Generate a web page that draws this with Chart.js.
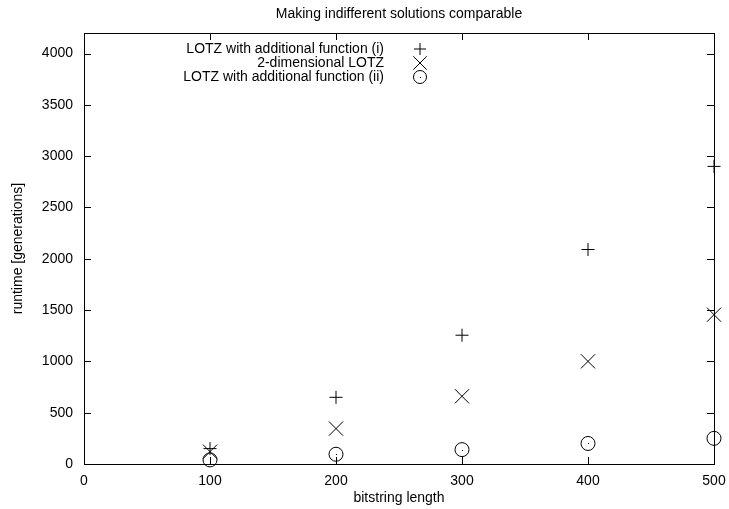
<!DOCTYPE html>
<html>
<head>
<meta charset="utf-8">
<script src="https://cdn.jsdelivr.net/npm/chart.js@4"></script>
<style>
  html, body { margin: 0; padding: 0; background: #fff; }
  #wrap { width: 729px; height: 509px; }
</style>
</head>
<body>
<div id="wrap"><canvas id="chart" width="729" height="509"></canvas></div>
<script>
const bitstringLength = [100, 200, 300, 400, 500];
const lotzFuncI = [150, 650, 1255, 2090, 2900];
const lotz2d = [120, 345, 660, 1000, 1455];
const lotzFuncII = [40, 95, 140, 200, 250];
const xTicks = [0, 100, 200, 300, 400, 500];
const yTicks = [0, 500, 1000, 1500, 2000, 2500, 3000, 3500, 4000];
const seriesLabels = ['LOTZ with additional function (i)', '2-dimensional LOTZ', 'LOTZ with additional function (ii)'];

const FONT = 'Liberation Sans, Arial, Helvetica, sans-serif';
const FSIZE = 14;

function toPoints(ys) {
    return bitstringLength.map((x, i) => ({ x: x, y: ys[i] }));
}

// gnuplot-like frame, inward ticks, title, legend, centre dots on circles
const gnuplotLook = {
    id: 'gnuplotLook',
    afterDatasetsDraw(chart) {
        const ctx = chart.ctx;
        const a = chart.chartArea;
        const xs = chart.scales.x, ys = chart.scales.y;
        const tl = 7;
        ctx.save();
        ctx.strokeStyle = '#000';
        ctx.lineWidth = 1;
        ctx.beginPath();
        xTicks.forEach(v => {
            const px = Math.round(xs.getPixelForValue(v)) + 0.5;
            ctx.moveTo(px, a.bottom); ctx.lineTo(px, a.bottom - tl);
            ctx.moveTo(px, a.top); ctx.lineTo(px, a.top + tl);
        });
        yTicks.forEach(v => {
            const py = Math.round(ys.getPixelForValue(v)) + 0.5;
            ctx.moveTo(a.left, py); ctx.lineTo(a.left + tl, py);
            ctx.moveTo(a.right, py); ctx.lineTo(a.right - tl, py);
        });
        ctx.stroke();
        ctx.strokeRect(Math.round(a.left) + 0.5, Math.round(a.top) + 0.5,
            Math.round(a.right - a.left), Math.round(a.bottom - a.top));

        // centre dots of circle markers
        ctx.fillStyle = '#000';
        chart.getDatasetMeta(2).data.forEach(pt => {
            ctx.fillRect(Math.round(pt.x), Math.round(pt.y), 1, 1);
        });

        // title
        ctx.font = FSIZE + 'px ' + FONT;
        ctx.textAlign = 'center';
        ctx.textBaseline = 'middle';
        ctx.fillText('Making indifferent solutions comparable', (a.left + a.right) / 2, 14);

        // legend
        const rowsY = [49, 63, 77];
        const textRight = 384;
        const markX = 420;
        ctx.textAlign = 'right';
        chart.data.datasets.forEach((ds, i) => {
            ctx.fillStyle = '#000';
            ctx.fillText(ds.label, textRight, rowsY[i]);
            const style = ds.pointStyle;
            const r = style === 'crossRot' ? 9.5 : (style === 'cross' ? 6 : 6.5);
            ctx.lineWidth = 1;
            ctx.strokeStyle = '#000';
            ctx.fillStyle = 'rgba(0,0,0,0)';
            Chart.helpers.drawPoint(ctx, { pointStyle: style, radius: r, rotation: 0, borderWidth: 1 }, markX, rowsY[i]);
            ctx.fillStyle = '#000';
            if (style === 'circle') ctx.fillRect(markX, rowsY[i], 1, 1);
        });
        ctx.restore();
    }
};

const pointBase = {
    borderColor: '#000',
    backgroundColor: 'rgba(0,0,0,0)',
    borderWidth: 1,
    showLine: false,
    clip: false
};

new Chart(document.getElementById('chart'), {
    type: 'scatter',
    data: {
        datasets: [
            Object.assign({}, pointBase, { label: seriesLabels[0], data: toPoints(lotzFuncI), pointStyle: 'cross', pointRadius: 6.5 }),
            Object.assign({}, pointBase, { label: seriesLabels[1], data: toPoints(lotz2d), pointStyle: 'crossRot', pointRadius: 10 }),
            Object.assign({}, pointBase, { label: seriesLabels[2], data: toPoints(lotzFuncII), pointStyle: 'circle', pointRadius: 7 })
        ]
    },
    options: {
        responsive: false,
        animation: false,
        layout: { padding: { top: 33, right: 15, left: 0, bottom: 0 } },
        plugins: {
            legend: { display: false },
            tooltip: { enabled: false }
        },
        scales: {
            x: {
                type: 'linear',
                min: 0,
                max: 500,
                afterBuildTicks: s => { s.ticks = xTicks.map(v => ({ value: v })); },
                afterFit: s => { s.height = 45; s.paddingRight = 0; s.paddingLeft = 0; },
                grid: { display: false, drawTicks: false },
                border: { display: false },
                ticks: { color: '#000', font: { family: FONT, size: FSIZE }, padding: 9, maxRotation: 0, callback: v => String(v) },
                title: { display: true, text: 'bitstring length', color: '#000', font: { family: FONT, size: FSIZE }, padding: { top: 0, bottom: 2 } }
            },
            y: {
                type: 'linear',
                min: 0,
                max: 4200,
                afterBuildTicks: s => { s.ticks = yTicks.map(v => ({ value: v })); },
                afterFit: s => { s.width = 84; s.paddingTop = 0; s.paddingBottom = 0; },
                grid: { display: false, drawTicks: false },
                border: { display: false },
                ticks: { color: '#000', font: { family: FONT, size: FSIZE }, padding: 11, callback: v => String(v) },
                title: { display: true, text: 'runtime [generations]', color: '#000', font: { family: FONT, size: FSIZE }, padding: { top: 10, bottom: 0 } }
            }
        }
    },
    plugins: [gnuplotLook]
});
</script>
</body>
</html>
